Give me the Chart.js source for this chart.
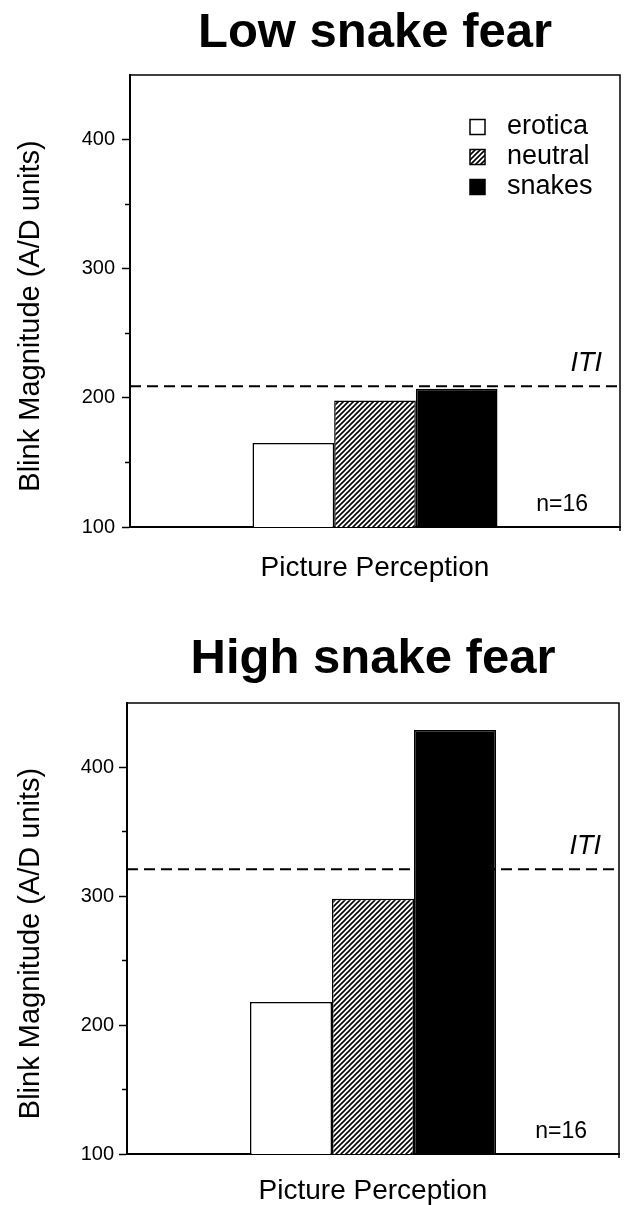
<!DOCTYPE html>
<html>
<head>
<meta charset="utf-8">
<script src="https://cdn.jsdelivr.net/npm/chart.js@4.4.1/dist/chart.umd.min.js"></script>
<style>
  html, body { margin: 0; padding: 0; background: #fff; }
  canvas { display: block; }
</style>
</head>
<body>
<canvas id="lowFear" width="628" height="605"></canvas>
<canvas id="highFear" width="628" height="600"></canvas>
<script>
// ---- data ----
const categories = ['Picture Perception'];
const seriesNames = ['erotica', 'neutral', 'snakes'];
const lowFearValues = [165, 198, 207];
const highFearValues = [218, 298, 429];
const itiLow = 209;
const itiHigh = 321;
const yMajorTicks = [100, 200, 300, 400];
const yMinorTicks = [150, 250, 350];
const yMin = 100;
const yMax = 450;
const yTitle = 'Blink Magnitude (A/D units)';
const itiLabel = 'ITI';
const sampleLabel = 'n=16';
const panelTitles = ['Low snake fear', 'High snake fear'];

const FONT = "'Liberation Sans', Arial, Helvetica, sans-serif";

// diagonal hatch used for the neutral bars
function makeHatch() {
  const s = 5;
  const c = document.createElement('canvas');
  c.width = s; c.height = s;
  const g = c.getContext('2d');
  g.fillStyle = '#fff';
  g.fillRect(0, 0, s, s);
  g.strokeStyle = '#000';
  g.lineWidth = 1.6;
  g.beginPath();
  g.moveTo(0, s); g.lineTo(s, 0);
  g.moveTo(-1, 1); g.lineTo(1, -1);
  g.moveTo(s - 1, s + 1); g.lineTo(s + 1, s - 1);
  g.stroke();
  return g.createPattern(c, 'repeat');
}

// dashed ITI level (behind the bars), frame, rotated caption, labels and legend
const panelText = {
  id: 'panelText',
  beforeDatasetsDraw(chart, args, opts) {
    const { ctx, chartArea: a, scales } = chart;
    const y = scales.y.getPixelForValue(opts.iti);
    ctx.save();
    ctx.strokeStyle = '#000';
    ctx.lineWidth = 2;
    ctx.setLineDash([11, 6]);
    ctx.beginPath();
    ctx.moveTo(a.left, y);
    ctx.lineTo(a.right, y);
    ctx.stroke();
    ctx.restore();
  },
  afterDraw(chart, args, opts) {
    const { ctx, chartArea: a, scales } = chart;
    ctx.save();
    ctx.strokeStyle = '#000';
    ctx.lineWidth = 1.5;
    ctx.beginPath();
    ctx.moveTo(a.left, a.top);
    ctx.lineTo(a.right, a.top);
    ctx.lineTo(a.right, a.bottom + 4);
    ctx.stroke();

    ctx.fillStyle = '#000';
    ctx.save();
    ctx.font = `29px ${FONT}`;
    ctx.textAlign = 'center';
    ctx.textBaseline = 'middle';
    ctx.translate(opts.captionX, (a.top + a.bottom) / 2 + opts.captionShift);
    ctx.rotate(-Math.PI / 2);
    ctx.fillText(yTitle, 0, 0);
    ctx.restore();

    const itiY = scales.y.getPixelForValue(opts.iti);
    ctx.font = `italic 27px ${FONT}`;
    ctx.textAlign = 'right';
    ctx.textBaseline = 'alphabetic';
    ctx.fillText(itiLabel, a.right - 18, itiY - 15);

    ctx.font = `23px ${FONT}`;
    ctx.fillText(sampleLabel, a.right - 32, a.bottom - 16);

    if (opts.legend) {
      const bx = a.right - 150;
      chart.data.datasets.forEach((d, i) => {
        const cy = a.top + 52 + i * 30;
        ctx.fillStyle = d.backgroundColor;
        ctx.fillRect(bx, cy - 7.5, 15, 15);
        ctx.strokeStyle = '#000';
        ctx.lineWidth = 1.5;
        ctx.strokeRect(bx, cy - 7.5, 15, 15);
        ctx.fillStyle = '#000';
        ctx.font = `27px ${FONT}`;
        ctx.textAlign = 'left';
        ctx.textBaseline = 'middle';
        ctx.fillText(d.label, bx + 37, cy);
      });
    }
    ctx.restore();
  }
};

const hatch = makeHatch();
const fills = ['#ffffff', hatch, '#000000'];

function buildPanel(canvasId, cfg) {
  const datasets = seriesNames.map((name, i) => ({
    label: name,
    data: [cfg.values[i]],
    backgroundColor: fills[i],
    borderColor: '#000',
    borderWidth: 1.5
  }));

  return new Chart(document.getElementById(canvasId), {
    type: 'bar',
    data: { labels: categories, datasets },
    options: {
      responsive: false,
      devicePixelRatio: 1,
      animation: false,
      datasets: { bar: { categoryPercentage: 0.5, barPercentage: 1.0 } },
      layout: { padding: { left: 0, right: cfg.rightPad, top: 0, bottom: 0 } },
      plugins: {
        legend: { display: false },
        tooltip: { enabled: false },
        title: {
          display: true,
          text: cfg.title,
          fullSize: false,
          color: '#000',
          font: { family: FONT, size: 49, weight: 'bold', lineHeight: 1 },
          padding: { top: cfg.titleTop, bottom: cfg.titleBottom }
        },
        panelText: {
          captionX: 31,
          captionShift: 15,
          iti: cfg.iti,
          legend: cfg.legend
        }
      },
      scales: {
        x: {
          type: 'category',
          position: 'bottom',
          offset: true,
          grid: { drawOnChartArea: false, drawTicks: false },
          border: { display: true, color: '#000', width: 2 },
          ticks: { display: false },
          title: {
            display: true,
            text: categories[0],
            color: '#000',
            font: { family: FONT, size: 28, lineHeight: 1 },
            padding: { top: 0, bottom: cfg.xTitlePad }
          },
          afterFit: s => { s.height = cfg.xHeight; }
        },
        y: {
          type: 'linear',
          position: 'left',
          min: yMin,
          max: yMax,
          weight: 1,
          afterBuildTicks: s => { s.ticks = yMajorTicks.map(v => ({ value: v })); },
          grid: { drawOnChartArea: false, drawTicks: true, tickLength: 8, tickWidth: 1.5, tickColor: '#000' },
          border: { display: true, color: '#000', width: 2 },
          ticks: { color: '#000', font: { family: FONT, size: 20 }, padding: cfg.tickPad },
          afterFit: s => { s.width = cfg.yWidth; }
        },
        yMinor: {
          type: 'linear',
          position: 'left',
          min: yMin,
          max: yMax,
          weight: 0,
          afterBuildTicks: s => { s.ticks = yMinorTicks.map(v => ({ value: v })); },
          grid: { drawOnChartArea: false, drawTicks: true, tickLength: 5, tickWidth: 1.5, tickColor: '#000' },
          border: { display: false },
          ticks: { display: false },
          afterFit: s => { s.width = 0; }
        }
      }
    },
    plugins: [panelText]
  });
}

buildPanel('lowFear', {
  title: panelTitles[0],
  values: lowFearValues,
  iti: itiLow,
  legend: true,
  rightPad: 8,
  yWidth: 130,
  tickPad: 7,
  titleTop: 9,
  titleBottom: 17,
  xHeight: 78,
  xTitlePad: 23
});

buildPanel('highFear', {
  title: panelTitles[1],
  values: highFearValues,
  iti: itiHigh,
  legend: false,
  rightPad: 9,
  yWidth: 127,
  tickPad: 5,
  titleTop: 30,
  titleBottom: 19,
  xHeight: 51,
  xTitlePad: 0
});
</script>
</body>
</html>
